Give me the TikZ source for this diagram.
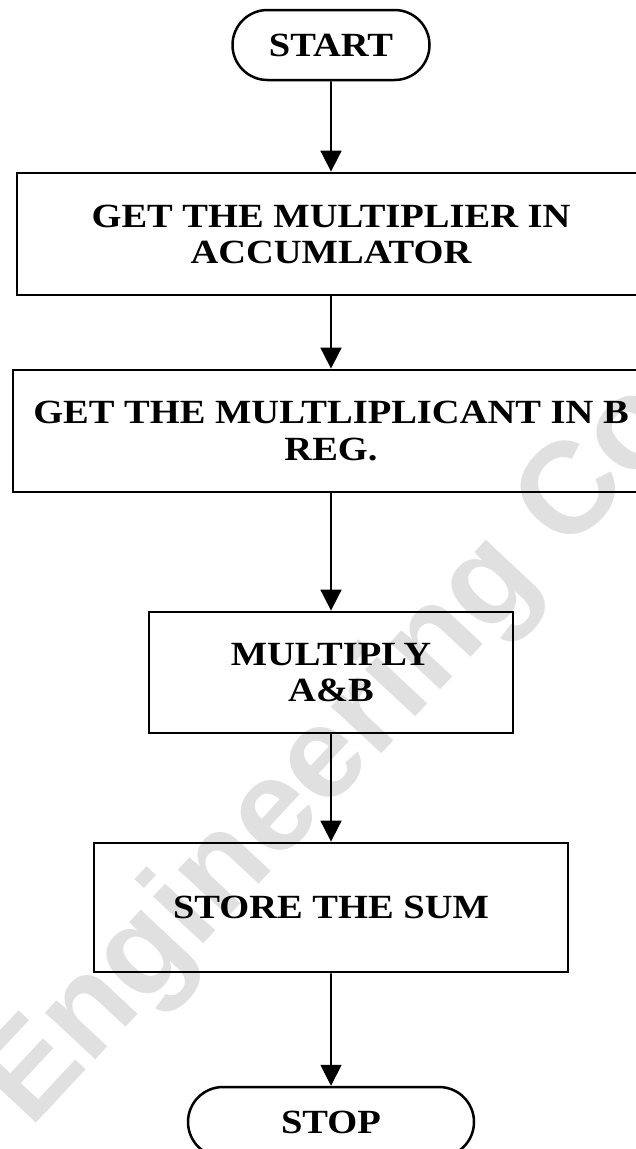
\documentclass[tikz,border=0pt]{standalone}
\usepackage{graphicx}
\usepackage{fontspec}
\setmainfont{Liberation Serif}
\newfontfamily\markfont{Liberation Sans}
\usetikzlibrary{arrows.meta,shapes.misc}
\definecolor{markgray}{RGB}{224,224,224}
% Centred, slightly condensed block of lines separated by \cr
\newcommand\squash[1]{\scalebox{1}[0.88]{\vbox{\baselineskip=41pt\halign{\hfil##\hfil\cr#1\crcr}}}}
\tikzset{
  label font/.style={font=\bfseries\fontsize{38.5}{41}\selectfont},
  procbox/.style={draw, line width=2.8pt, inner sep=0pt, label font},
  term/.style={draw, rounded rectangle, line width=2.5pt, inner sep=0pt, label font},
  flow/.style={line width=1.8pt, -{Triangle[width=21pt,length=21pt]}},
  watermark/.style={text=markgray, inner sep=0pt, anchor=base west,
    font=\markfont\bfseries\fontsize{130}{130}\selectfont}
}
\begin{document}
\begin{tikzpicture}[x=1pt, y=-1pt]
  \useasboundingbox (0,0) rectangle (636,1149);
  \clip (0,0) rectangle (636,1149);

  % background watermark
  \node[watermark, rotate=47] (mark) at (30,1130) {Engineering Co};

  % flowchart steps
  \node[term, minimum width=197pt, minimum height=70pt] (start) at (331,45) {\squash{START}};
  \node[procbox, minimum width=628pt, minimum height=122pt] (b1) at (331,234)
    {\squash{GET THE MULTIPLIER IN\cr ACCUMLATOR}};
  \node[procbox, minimum width=636pt, minimum height=122pt] (b2) at (331,431)
    {\squash{GET THE MULTLIPLICANT IN B\cr REG.}};
  \node[procbox, minimum width=364pt, minimum height=121pt] (b3) at (331,672.5)
    {\squash{MULTIPLY\cr A\&B}};
  \node[procbox, minimum width=474pt, minimum height=129pt] (b4) at (331,907.5)
    {\squash{STORE THE SUM}};
  \node[term, minimum width=286pt, minimum height=70pt] (stop) at (331,1122) {\squash{STOP}};

  % connectors
  \draw[flow] (start) -- (b1);
  \draw[flow] (b1) -- (b2);
  \draw[flow] (b2) -- (b3);
  \draw[flow] (b3) -- (b4);
  \draw[flow] (b4) -- (stop);
\end{tikzpicture}
\end{document}
